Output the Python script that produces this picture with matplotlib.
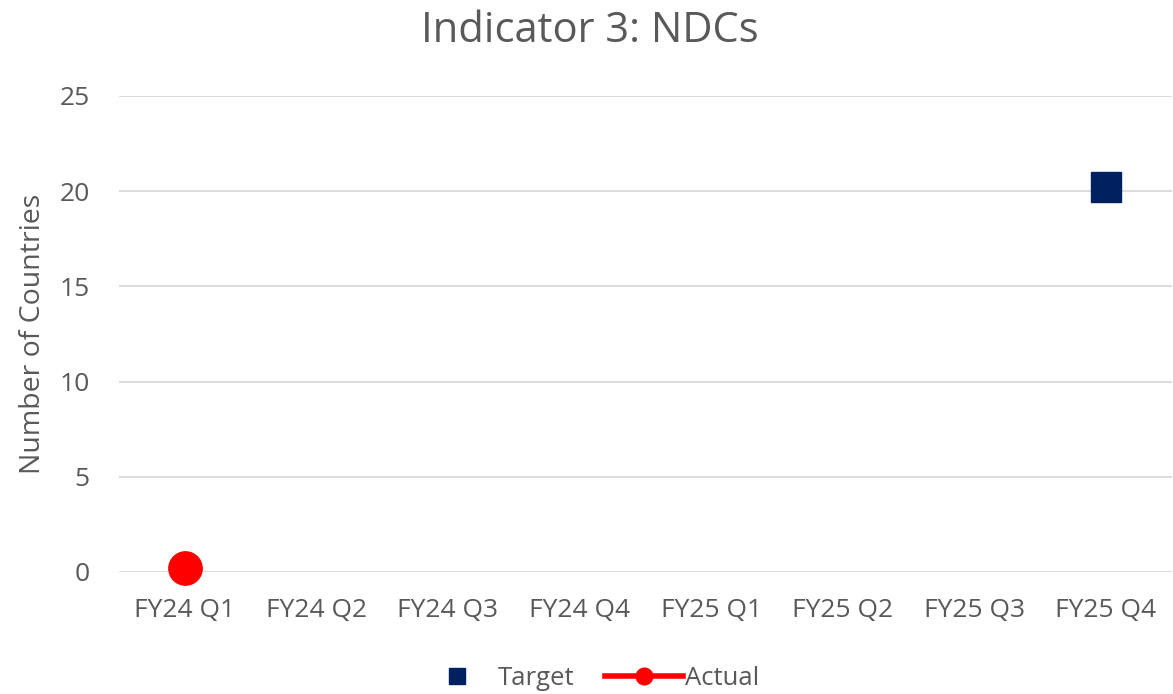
import matplotlib
matplotlib.use("Agg")
import matplotlib.pyplot as plt
from matplotlib.lines import Line2D
import numpy as np

categories = ["FY24 Q1", "FY24 Q2", "FY24 Q3", "FY24 Q4",
              "FY25 Q1", "FY25 Q2", "FY25 Q3", "FY25 Q4"]
target = [None, None, None, None, None, None, None, 20.2]
actual = [0.2, None, None, None, None, None, None, None]
y_ticks = [0, 5, 10, 15, 20, 25]

plt.rcParams['font.family'] = ['Open Sans', 'DejaVu Sans']
gray = '#595959'

fig = plt.figure(figsize=(11.73, 6.94), dpi=100)
ax = fig.add_axes([0.1014, 0.1758, 0.8975, 0.6859])

x = np.arange(len(categories))
tx = [i for i, v in zip(x, target) if v is not None]
ty = [v for v in target if v is not None]
ax_ = [i for i, v in zip(x, actual) if v is not None]
ay = [v for v in actual if v is not None]

ax.plot(tx, ty, linestyle='none', marker='s', markersize=22, color='#002060', zorder=3, clip_on=False)
ax.plot(ax_, ay, linestyle='-', linewidth=4, marker='o', markersize=24, color='#FF0000', zorder=3, clip_on=False)

ax.set_xlim(-0.5, len(categories) - 0.5)
ax.set_ylim(0, 25)
ax.set_yticks(y_ticks)
ax.set_xticks(x)
ax.set_xticklabels(categories)
ax.yaxis.grid(True, color='#D9D9D9', linewidth=1.3)
ax.set_axisbelow(True)
for s in ax.spines.values():
    s.set_visible(False)
ax.tick_params(axis='both', length=0, colors=gray, labelsize=19)
ax.tick_params(axis='x', pad=19)
ax.tick_params(axis='y', pad=21)
ax.set_ylabel("Number of Countries", color=gray, fontsize=20.5, labelpad=9)

fig.text(0.503, 0.955, "Indicator 3: NDCs", ha='center', va='center', color=gray, fontsize=30)

handles = [Line2D([], [], linestyle='none', marker='s', markersize=12, color='#002060'),
           Line2D([], [], linestyle='-', linewidth=4, marker='o', markersize=12, color='#FF0000')]
leg = fig.legend(handles, ["Target", "Actual"], loc='center', bbox_to_anchor=(0.502, 0.022),
                 ncol=2, frameon=False, fontsize=18.5, handlelength=3.0, columnspacing=1.2,
                 handletextpad=0.1)
for t in leg.get_texts():
    t.set_color(gray)

fig.savefig("out.png", dpi=100)
